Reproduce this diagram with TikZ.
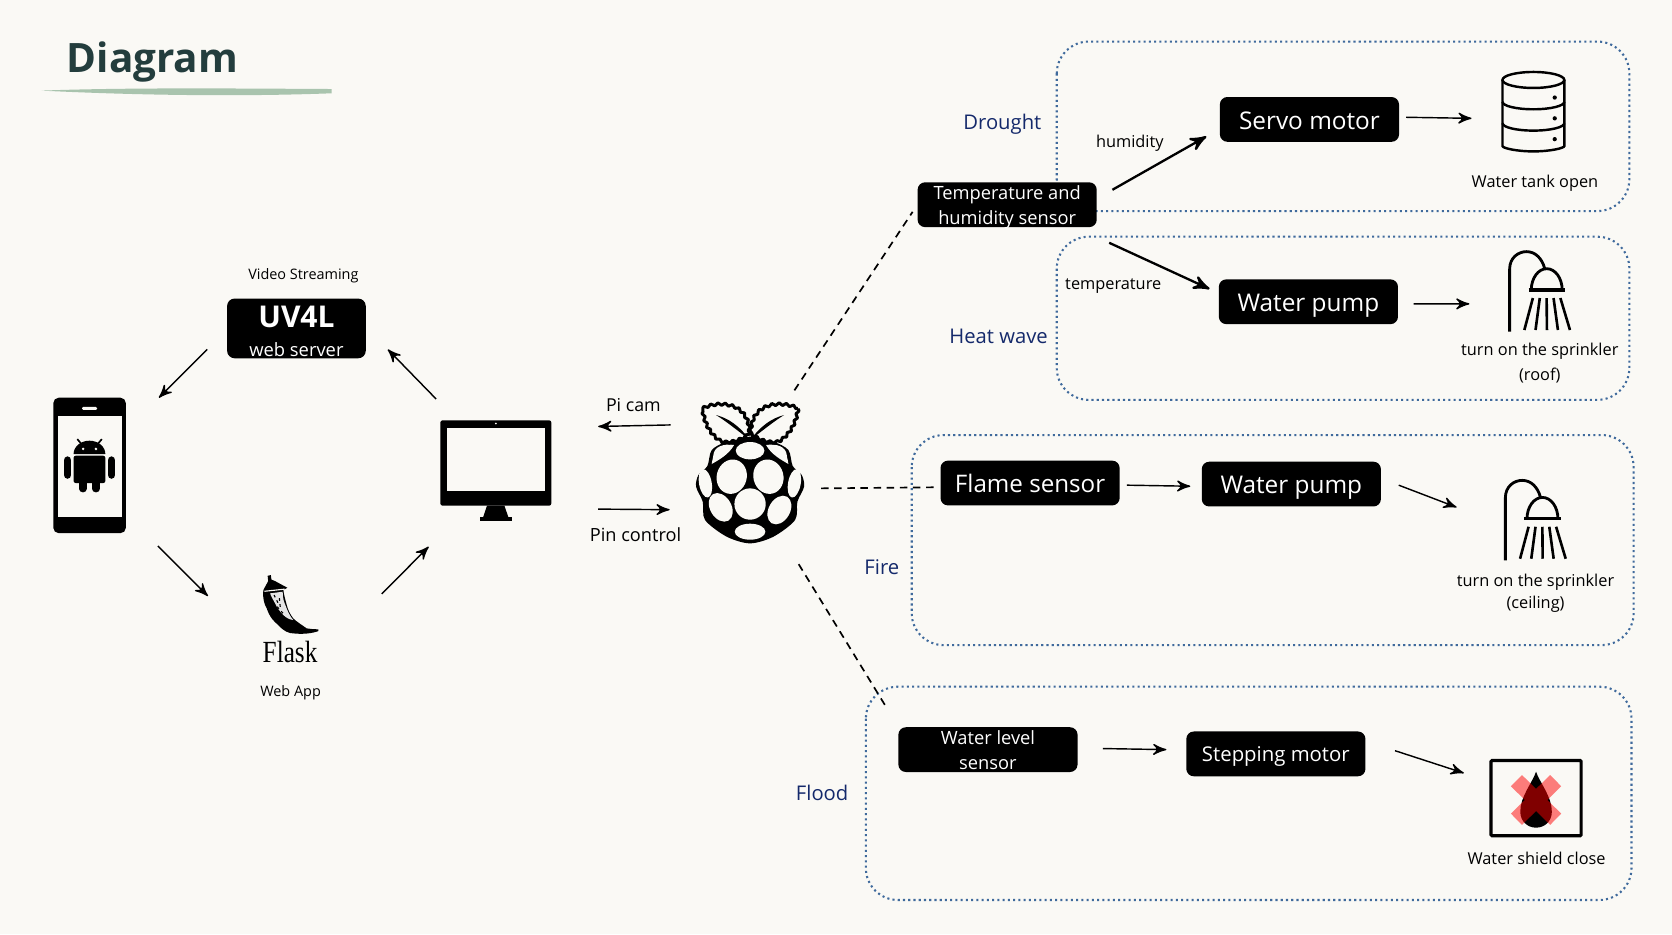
\documentclass[tikz,border=0pt]{standalone}
\usepackage{fontspec}
\setmainfont{Open Sans}
\newfontfamily\flaskfont[FakeStretch=.82]{Liberation Serif}
\usetikzlibrary{arrows,decorations.pathmorphing}

\definecolor{pagebg}{HTML}{FAF9F5}
\definecolor{titlecol}{HTML}{233D3D}
\definecolor{brushcol}{HTML}{A9C4AE}
\definecolor{dotcol}{HTML}{3F6A9C}
\definecolor{eventcol}{HTML}{14296B}

\newcommand{\fs}[1]{\fontsize{#1}{#1}\selectfont}

\tikzset{
	blackbox/.style={fill=black,text=white,rounded corners=.07cm,minimum width=1.68cm,minimum height=.42cm,inner sep=0pt,text height=.2cm,text depth=.02cm},
	twolinebox/.style={blackbox,text height=.14cm,text depth=.01cm,font=\fontsize{4.88}{6.8}\selectfont},
	iconbox/.style 2 args={inner sep=0pt,outer sep=0pt,minimum width=#1cm,minimum height=#2cm},
	zonebox/.style={draw=dotcol,line width=.55pt,dash pattern=on .55pt off .85pt,rounded corners=.3cm},
	caption/.style={font=\fs{4.36},align=center,inner sep=0pt},
	eventlabel/.style={font=\fs{5.4},text=eventcol,inner sep=0pt},
	conn/.style={->,>=stealth',line width=.38pt},
	connthick/.style={->,>=stealth',line width=.62pt},
	link/.style={line width=.45pt,dash pattern=on 2pt off 1.5pt},
	rpileaf/.style={fill=pagebg,line width=.8pt,line join=round,decorate,decoration={zigzag,segment length=1.9pt,amplitude=.35pt}},
	phonepic/.pic={
		\fill[rounded corners=.05cm] (0,0) rectangle (.68,-1.27);
		\fill[pagebg] (.04,-.17) rectangle (.64,-1.12);
		\fill[pagebg,rounded corners=.012cm] (.27,-.085) rectangle (.41,-.115);
		\draw[line width=.072cm,line cap=round] (.134,-.586) -- (.134,-.724) (.546,-.586) -- (.546,-.724);
		\draw[line width=.07cm,line cap=round] (.277,-.78) -- (.277,-.853) (.40,-.78) -- (.40,-.853);
		\fill[rounded corners=.02cm] (.19,-.544) rectangle (.488,-.80);
		\fill (.19,-.528) arc (180:0:.149 and .125) -- cycle;
		\fill[pagebg] (.28,-.48) circle (.013) (.40,-.48) circle (.013);
		\draw[line width=.45pt] (.225,-.388) -- (.26,-.43) (.455,-.388) -- (.42,-.43);
	},
	monitorpic/.pic={
		\fill[rounded corners=.02cm] (0,0) rectangle (1.04,-.80);
		\fill[pagebg] (.06,-.07) rectangle (.98,-.66);
		\fill[pagebg] (.52,-.03) circle (.009);
		\fill (.437,-.80) -- (.60,-.80) -- (.638,-.91) -- (.40,-.91) -- cycle;
		\fill (.37,-.91) rectangle (.67,-.945);
	},
	flaskpic/.pic={
		\fill (.01,-.143) .. controls (.0,-.22) and (.02,-.28) .. (.041,-.315) .. controls (.07,-.40) and (.11,-.44) .. (.15,-.472) .. controls (.20,-.53) and (.25,-.55) .. (.29,-.55) .. controls (.38,-.56) and (.47,-.55) .. (.526,-.528) -- (.526,-.512) .. controls (.48,-.51) and (.45,-.51) .. (.416,-.503) .. controls (.37,-.47) and (.32,-.44) .. (.29,-.409) .. controls (.26,-.37) and (.24,-.33) .. (.229,-.284) .. controls (.215,-.23) and (.20,-.18) .. (.198,-.143) -- (.235,-.122) -- (.12,-.06) -- (.085,-.045) -- (.08,-.003) -- (.05,-.01) -- (.055,-.06) -- cycle;
		\fill[gray!20] (.073,-.175) -- (.191,-.159) .. controls (.19,-.22) and (.205,-.26) .. (.216,-.284) .. controls (.235,-.34) and (.26,-.39) .. (.29,-.425) .. controls (.25,-.42) and (.22,-.40) .. (.198,-.378) .. controls (.16,-.34) and (.14,-.31) .. (.12,-.269) .. controls (.10,-.23) and (.08,-.20) .. cycle;
		\draw[pagebg,line width=.3pt] (.02,-.155) -- (.21,-.135);
		\draw[line width=.3pt,dash pattern=on .7pt off .9pt] (.11,-.19) -- (.15,-.27) (.16,-.22) -- (.17,-.32) (.14,-.30) -- (.21,-.38);
	},
	tankpic/.pic={
		\draw[line width=.65pt,rounded corners=.02cm] (0,-.08) -- (0,-.68) arc (180:360:.29 and .07) -- (.58,-.08);
		\draw[line width=.65pt] (.29,-.08) ellipse (.29 and .075);
		\draw[line width=.65pt] (0,-.285) arc (180:360:.29 and .07) (0,-.485) arc (180:360:.29 and .07);
		\fill (.49,-.245) circle (.02) (.49,-.44) circle (.02) (.49,-.635) circle (.02);
	},
	showerpic/.pic={
		\draw[line width=.75pt] (.007,-.755) -- (.007,-.17) .. controls (.007,-.06) and (.09,-.005) .. (.165,-.005) .. controls (.25,-.005) and (.31,-.07) .. (.335,-.16);
		\draw[line width=.75pt] (.21,-.365) arc (180:0:.145 and .2);
		\draw[line width=.85pt] (.185,-.365) -- (.53,-.365);
		\draw[line width=.7pt] (.225,-.44) -- (.145,-.74) (.29,-.44) -- (.25,-.74) (.354,-.44) -- (.357,-.74) (.419,-.44) -- (.46,-.74) (.483,-.44) -- (.573,-.74);
	},
	shieldpic/.pic={
		\fill (0,.265) .. controls (.03,.17) and (.15,.03) .. (.148,-.11) .. controls (.148,-.2) and (.08,-.26) .. (0,-.26) .. controls (-.08,-.26) and (-.148,-.2) .. (-.148,-.11) .. controls (-.15,.03) and (-.03,.17) .. (0,.265);
		\draw[red,opacity=.5,line width=.148cm] (-.184,.181) -- (.184,-.181) (.184,.181) -- (-.184,-.181);
	},
	rpipic/.pic={
		\begin{scope}[x=.03126mm,y=-.03126mm]
			\fill[line join=round] plot[smooth cycle] coordinates {(270,170) (340,185) (385,210) (398,258) (425,285) (432,320) (412,365) (405,420) (340,470) (270,490) (200,470) (135,420) (128,365) (108,320) (115,285) (142,258) (155,210) (200,185)};
			\foreach \ex/\ey/\erx/\ery/\erot in {270/212/43/26/0, 215/290/45/52/-15, 325/290/45/52/15, 270/372/47/47/0, 136/310/19/43/10, 403/310/19/43/-10, 182/382/32/46/30, 358/390/32/46/-30, 270/455/46/24/0}
				\fill[pagebg,rotate around={\erot:(\ex,\ey)}] (\ex,\ey) ellipse ({\erx*.03126mm} and {\ery*.03126mm});
			\fill[pagebg] (222,195) .. controls (190,190) and (162,200) .. (160,225) .. controls (158,240) and (155,245) .. (155,252) .. controls (175,240) and (205,225) .. cycle;
			\fill[pagebg] (318,195) .. controls (350,190) and (378,200) .. (380,225) .. controls (382,240) and (385,245) .. (385,252) .. controls (365,240) and (335,225) .. cycle;
			\filldraw[rpileaf] (128,85) .. controls (160,68) and (215,65) .. (245,95) .. controls (265,115) and (268,140) .. (268,160) .. controls (245,180) and (215,190) .. (185,185) .. controls (150,165) and (130,125) .. cycle;
			\filldraw[rpileaf] (414,85) .. controls (380,68) and (325,65) .. (295,95) .. controls (275,115) and (272,140) .. (272,160) .. controls (295,180) and (325,190) .. (355,185) .. controls (390,165) and (410,125) .. cycle;
			\fill (168,105) .. controls (205,115) and (235,135) .. (270,180) .. controls (230,150) and (200,125) .. cycle;
			\fill (372,105) .. controls (335,115) and (305,135) .. (270,180) .. controls (310,150) and (340,125) .. cycle;
		\end{scope}
	},
}

\begin{document}
\begin{tikzpicture}[node distance=1cm]
	\useasboundingbox (0,0) rectangle (15.68,-8.76);
	\fill[pagebg] (0,0) rectangle (15.68,-8.76);

	\node[inner sep=0pt,text=titlecol,font=\fs{10.8}\bfseries] (title) at (1.43,-.58) {Diagram};
	\fill[brushcol] (.39,-.85) .. controls (1.2,-.82) and (2.2,-.83) .. (3.11,-.835) -- (3.11,-.875) .. controls (2.2,-.91) and (1.2,-.89) .. cycle;

	% event zones
	\draw[zonebox] (9.91,-.39) rectangle (15.28,-1.98);
	\draw[zonebox] (9.91,-2.22) rectangle (15.28,-3.75);
	\draw[zonebox] (8.55,-4.08) rectangle (15.32,-6.05);
	\draw[zonebox] (8.12,-6.44) rectangle (15.30,-8.44);

	\node[eventlabel] (drought) at (9.40,-1.17) {Drought};
	\node[eventlabel] (heatwave) at (9.365,-3.15) {Heat wave};
	\node[eventlabel] (fire) at (8.27,-5.32) {Fire};
	\node[eventlabel] (flood) at (7.71,-7.44) {Flood};

	% web side
	\node[iconbox={.68}{1.27}] (phone) at (.84,-4.365) {};
	\pic at (phone.north west) {phonepic};
	\node[blackbox,minimum width=1.30cm,minimum height=.56cm,text height=.24cm,text depth=.02cm,font=\fontsize{4.9}{7.65}\selectfont] (uv4l) at (2.78,-3.08) {\begin{tabular}[c]{@{}c@{}}\fs{8}\bfseries UV4L\\\fs{4.9}web server\end{tabular}};
	\node[caption,font=\fs{3.85}] (stream) at (2.845,-2.59) {Video Streaming};
	\node[iconbox={.52}{.58}] (flask) at (2.72,-5.68) {};
	\pic at (flask.north west) {flaskpic};
	\node[inner sep=0pt,font=\fs{8.2}\flaskfont] (flaskname) at (2.72,-6.11) {Flask};
	\node[caption,font=\fs{3.85}] (webapp) at (2.725,-6.50) {Web App};
	\node[iconbox={1.04}{.945}] (monitor) at (4.65,-4.4145) {};
	\pic at (monitor.north west) {monitorpic};

	\node[iconbox={1.01}{1.32}] (rpi) at (7.035,-4.436) {};
	\pic at (6.19,-3.564) {rpipic};
	\node[caption,font=\fs{4.75}] (picam) at (5.94,-3.80) {Pi cam};
	\node[caption,font=\fs{4.85}] (pincontrol) at (5.96,-5.01) {Pin control};

	% sensors and motors
	\node[twolinebox] (tempsensor) at (9.445,-1.92) {\begin{tabular}[c]{@{}c@{}}Temperature and\\humidity sensor\end{tabular}};
	\node[blackbox,font=\fs{6.5}] (servo) at (12.28,-1.12) {Servo motor};
	\node[blackbox,font=\fs{6.5}] (pumproof) at (12.27,-2.83) {Water pump};
	\node[blackbox,font=\fs{6.45}] (flame) at (9.66,-4.53) {Flame sensor};
	\node[blackbox,font=\fs{6.5}] (pumpceil) at (12.11,-4.54) {Water pump};
	\node[twolinebox] (waterlevel) at (9.265,-7.03) {\begin{tabular}[c]{@{}c@{}}Water level\\sensor\end{tabular}};
	\node[blackbox,font=\fs{5.43},text height=.16cm] (stepping) at (11.965,-7.07) {Stepping motor};

	% actuators
	\node[iconbox={.58}{.75}] (tank) at (14.38,-1.045) {};
	\pic at (tank.north west) {tankpic};
	\node[iconbox={.58}{.765}] (showerroof) at (14.44,-2.7375) {};
	\pic at (showerroof.north west) {showerpic};
	\node[iconbox={.58}{.765}] (showerceil) at (14.40,-4.8825) {};
	\pic at (showerceil.north west) {showerpic};
	\node[draw,line width=.85pt,inner sep=0pt,minimum width=.845cm,minimum height=.705cm,rounded corners=.01cm] (shield) at (14.405,-7.485) {};
	\pic at (14.405,-7.502) {shieldpic};

	\node[caption] (humidity) at (10.595,-1.34) {humidity};
	\node[caption] (temperature) at (10.44,-2.68) {temperature};
	\node[caption,xshift=.015cm] (tankopen) [below of=tank,node distance=.67cm] {Water tank open};
	\node[caption,yshift=-.285cm] (roofnote) at (showerroof.south) {turn on the sprinkler\\[1.5pt](roof)};
	\node[caption,yshift=-.30cm] (ceilnote) at (showerceil.south) {turn on the sprinkler\\[1.5pt](ceiling)};
	\node[caption] (shieldnote) at (14.41,-8.05) {Water shield close};

	% web connectors
	\draw[conn] ([shift={(-.18,.09)}]uv4l.south west) -- ([shift={(.31,0)}]phone.north east);
	\draw[conn] ([shift={(.30,-.12)}]phone.south east) -- ([shift={(-.51,-.20)}]flask.north west);
	\draw[conn] ([shift={(.60,-.18)}]flask.north east) -- ([shift={(-.11,-.24)}]monitor.south west);
	\draw[conn] ([shift={(-.04,.20)}]monitor.north west) -- ([shift={(.20,.09)}]uv4l.south east);
	\draw[conn] ([shift={(-.24,.451)}]rpi.west) -- ([shift={(.44,.415)}]monitor.east);
	\draw[conn] ([shift={(.44,-.36)}]monitor.east) -- ([shift={(-.25,-.344)}]rpi.west);

	% links from the board
	\draw[link] ([shift={(-.09,.115)}]rpi.north east) -- ([shift={(-.04,.15)}]tempsensor.south west);
	\draw[link] ([shift={(.16,-.144)}]rpi.east) -- ([shift={(-.04,-.04)}]flame.west);
	\draw[link] ([shift={(-.05,-.195)}]rpi.south east) -- ([shift={(-.10,.17)}]waterlevel.north west);

	% zone connectors
	\draw[connthick] ([shift={(.14,.14)}]tempsensor.east) -- ([shift={(-.12,-.16)}]servo.west);
	\draw[connthick] ([shift={(.11,-.14)}]tempsensor.south east) -- ([shift={(-.08,.12)}]pumproof.west);
	\draw[conn] ([shift={(.06,.02)}]servo.east) -- ([shift={(-.29,-.065)}]tank.west);
	\draw[conn] ([shift={(.14,-.02)}]pumproof.east) -- ([shift={(-.37,-.1125)}]showerroof.west);
	\draw[conn] ([shift={(.06,-.02)}]flame.east) -- ([shift={(-.10,-.02)}]pumpceil.west);
	\draw[conn] ([shift={(.16,-.01)}]pumpceil.east) -- ([shift={(-.45,.125)}]showerceil.west);
	\draw[conn] ([shift={(.23,.01)}]waterlevel.east) -- ([shift={(-.18,.04)}]stepping.west);
	\draw[conn] ([shift={(.27,.03)}]stepping.east) -- ([shift={(-.24,.235)}]shield.west);
\end{tikzpicture}
\end{document}
